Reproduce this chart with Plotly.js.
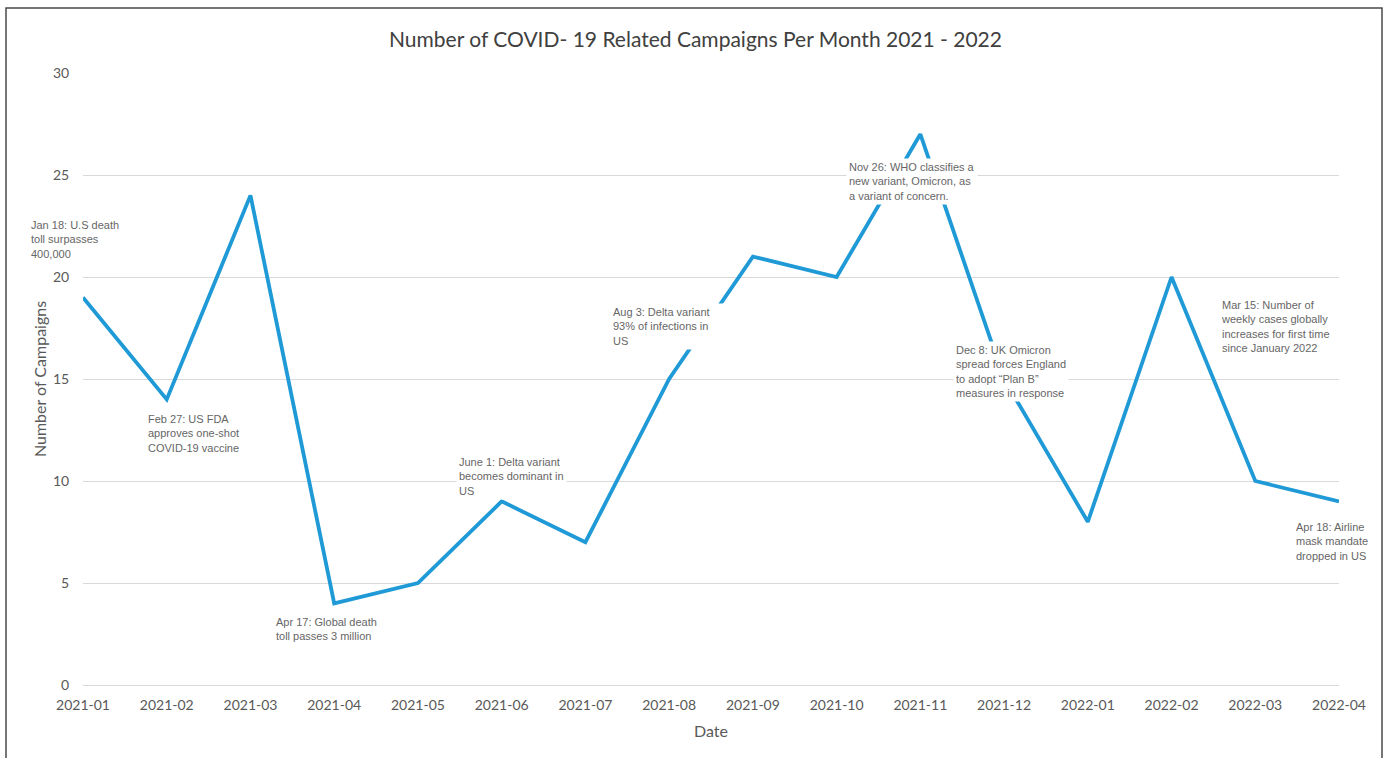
<!DOCTYPE html>
<html>
<head>
<meta charset="utf-8">
<script src="https://cdn.plot.ly/plotly-3.0.1.min.js"></script>
<style>html,body{margin:0;padding:0;background:#fff;}#chart{width:1391px;height:758px;}</style>
</head>
<body>
<div id="chart"></div>
<script>
const months = ["2021-01","2021-02","2021-03","2021-04","2021-05","2021-06","2021-07","2021-08","2021-09","2021-10","2021-11","2021-12","2022-01","2022-02","2022-03","2022-04"];
const campaigns = [19,14,24,4,5,9,7,15,21,20,27,15,8,20,10,9];
const eventTexts = [
  "Jan 18: U.S death<br>toll surpasses<br>400,000",
  "Feb 27: US FDA<br>approves one-shot<br>COVID-19 vaccine",
  "Apr 17: Global death<br>toll passes 3 million",
  "June 1: Delta variant<br>becomes dominant in<br>US",
  "Aug 3: Delta variant<br>93% of infections in<br>US",
  "Nov 26: WHO classifies a<br>new variant, Omicron, as<br>a variant of concern.",
  "Dec 8: UK Omicron<br>spread forces England<br>to adopt \u201cPlan B\u201d<br>measures in response",
  "Mar 15: Number of<br>weekly cases globally<br>increases for first time<br>since January 2022",
  "Apr 18: Airline<br>mask mandate<br>dropped in US"
];
// label box anchor positions (category index, value units)
const eventX = [-0.66, 0.74, 2.27, 4.455, 6.29, 9.11, 10.39, 13.556, 14.45];
const eventY = [22.99, 13.48, 3.53, 11.37, 18.73, 25.83, 16.86, 19.07, 8.19];
const eventW = [null, null, null, null, 112, null, null, null, null];

const xMax = months.length - 1, yMax = 30;
const annotations = eventTexts.map((t, i) => {
  const a = {
    text: t, x: eventX[i] / xMax, y: eventY[i] / yMax, xref: "paper", yref: "paper",
    xanchor: "left", yanchor: "top", align: "left", showarrow: false,
    bgcolor: "#ffffff", borderpad: 2,
    font: {family: "Liberation Sans, Arial, sans-serif", size: 11, color: "#666666"}
  };
  if (eventW[i]) a.width = eventW[i];
  return a;
});

const trace = {
  x: months.map((m, i) => i),
  y: campaigns,
  type: "scatter",
  mode: "lines",
  line: {color: "#1f9ad6", width: 3.8},
  hoverinfo: "x+y"
};

const layout = {
  width: 1391, height: 758,
  margin: {l: 83, r: 52, t: 73, b: 73},
  paper_bgcolor: "#ffffff", plot_bgcolor: "#ffffff",
  showlegend: false,
  title: {
    text: "Number of COVID- 19 Related Campaigns Per Month 2021 - 2022",
    x: 0.5, xref: "container", xanchor: "center",
    y: 1 - 40/758, yref: "container", yanchor: "middle",
    font: {family: "Lato, 'Open Sans', sans-serif", size: 21, color: "#404040"}
  },
  xaxis: {
    range: [0, xMax],
    tickmode: "array",
    tickvals: months.map((m, i) => i),
    ticktext: months,
    showgrid: false, zeroline: false, showline: false,
    ticks: "outside", ticklen: 7, tickcolor: "rgba(0,0,0,0)",
    tickfont: {family: "Lato, 'Open Sans', sans-serif", size: 14, color: "#595959"},
    title: {text: "Date", standoff: 14, font: {family: "Lato, 'Open Sans', sans-serif", size: 16, color: "#595959"}},
    fixedrange: true
  },
  yaxis: {
    range: [0, yMax],
    tickvals: [0,5,10,15,20,25,30],
    showgrid: true, gridcolor: "#d9d9d9", gridwidth: 1,
    zeroline: true, zerolinecolor: "#d9d9d9", zerolinewidth: 1,
    showline: false,
    ticks: "outside", ticklen: 10, tickcolor: "rgba(0,0,0,0)",
    tickfont: {family: "Lato, 'Open Sans', sans-serif", size: 14, color: "#595959"},
    title: {text: "Number of Campaigns", standoff: 2, font: {family: "Lato, 'Open Sans', sans-serif", size: 16, color: "#595959"}},
    fixedrange: true
  },
  annotations: annotations,
  shapes: [{
    type: "rect", xref: "paper", yref: "paper",
    x0: (6-83)/1256, x1: (1382-83)/1256,
    y0: -0.2, y1: (685-8)/612,
    line: {color: "#4a4a4a", width: 1.5}, fillcolor: "rgba(0,0,0,0)", layer: "below"
  }]
};

Plotly.newPlot("chart", [trace], layout, {displayModeBar: false, staticPlot: true});
</script>
</body>
</html>
